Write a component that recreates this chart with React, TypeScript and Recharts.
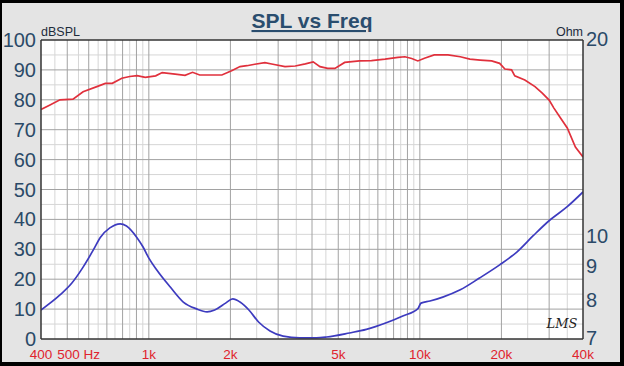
import React from 'react';
import { ComposedChart, Line, XAxis, YAxis, CartesianGrid, ReferenceLine } from 'recharts';

// SPL response (dBSPL, left axis)
const splFreq = [400, 430, 470, 525, 572, 643, 691, 733, 795, 850, 905, 970, 1060, 1120, 1250, 1360, 1450, 1540, 1710, 1860, 2020, 2170, 2300, 2460, 2680, 2870, 3180, 3470, 3780, 4040, 4280, 4570, 4860, 5280, 5990, 6630, 7440, 8300, 8810, 9330, 9830, 10400, 11300, 12700, 14100, 15300, 16700, 18400, 19700, 20600, 21800, 22400, 24400, 26600, 28300, 30000, 31200, 33000, 35000, 37500, 40000];
const splDb = [76.8, 78.2, 80.0, 80.2, 82.7, 84.4, 85.5, 85.5, 87.2, 87.8, 88.1, 87.5, 88.0, 89.1, 88.6, 88.2, 89.2, 88.3, 88.3, 88.3, 89.7, 91.1, 91.4, 91.9, 92.4, 91.9, 91.1, 91.3, 92.0, 92.7, 91.1, 90.5, 90.5, 92.5, 93.0, 93.1, 93.6, 94.2, 94.4, 93.8, 93.0, 93.9, 95.0, 95.0, 94.4, 93.6, 93.3, 93.0, 92.2, 90.3, 90.0, 88.0, 86.6, 84.4, 82.2, 79.9, 77.3, 74.0, 70.6, 64.2, 60.9];

// Impedance (Ohm, right log axis)
const impFreq = [400, 470, 520, 572, 624, 662, 718, 784, 827, 903, 952, 1000, 1070, 1200, 1340, 1500, 1640, 1750, 1920, 2040, 2170, 2340, 2540, 2800, 3130, 3600, 4150, 4530, 5500, 6350, 7520, 8650, 9820, 10100, 10900, 12150, 14100, 16600, 19700, 22800, 26200, 30200, 34900, 40000];
const impOhm = [7.75, 8.17, 8.52, 9.01, 9.57, 10.0, 10.34, 10.49, 10.41, 10.0, 9.67, 9.3, 8.92, 8.4, 7.97, 7.78, 7.7, 7.75, 7.94, 8.06, 7.97, 7.75, 7.43, 7.2, 7.07, 7.03, 7.03, 7.05, 7.15, 7.24, 7.41, 7.59, 7.78, 7.94, 8.0, 8.11, 8.32, 8.67, 9.08, 9.5, 10.06, 10.63, 11.13, 11.73];

const xTicks = [400, 500, 1000, 2000, 5000, 10000, 20000, 40000];
const xTickLabels = ['400', '500 Hz', '1k', '2k', '5k', '10k', '20k', '40k'];
const dbTicks = [0, 10, 20, 30, 40, 50, 60, 70, 80, 90, 100];
const ohmTicks = [7, 8, 9, 10, 20];

const gridMajorFreq = [500, 600, 700, 800, 900, 1000, 2000, 3000, 4000, 5000, 6000, 7000, 8000, 9000, 10000, 20000, 30000];
const gridMinorFreq = [450, 550, 650, 750, 850, 950, 1500, 2500, 3500, 4500, 5500, 6500, 7500, 8500, 9500, 15000, 25000, 35000];
const gridMajorDb = [10, 20, 30, 40, 50, 60, 70, 80, 90];
const gridMinorDb = [5, 15, 25, 35, 45, 55, 65, 75, 85, 95];

const splData = splFreq.map((f, i) => ({ f, db: splDb[i] }));
const impData = impFreq.map((f, i) => ({ f, ohm: impOhm[i] }));

const FONT = '"Liberation Sans", Arial, sans-serif';
const AXIS_BLUE = '#2b4a68';

const XTick = (props: any) => {
  const { x, y, payload } = props;
  const idx = xTicks.indexOf(payload.value);
  const label = idx >= 0 ? xTickLabels[idx] : '';
  const isHz = payload.value === 500;
  return (
    <text x={isHz ? x - 10 : x} y={y + 19.5} textAnchor={isHz ? 'start' : 'middle'} fill="#e0232d" fontSize={13.5} fontFamily={FONT}>
      {label}
    </text>
  );
};

const LeftTick = (props: any) => {
  const { x, y, payload } = props;
  return (
    <text x={x - 5} y={y + 7} textAnchor="end" fill={AXIS_BLUE} fontSize={20} fontFamily={FONT}>
      {payload.value}
    </text>
  );
};

const RightTick = (props: any) => {
  const { x, y, payload } = props;
  return (
    <text x={x + 3} y={y + 6} textAnchor="start" fill={AXIS_BLUE} fontSize={20} fontFamily={FONT}>
      {payload.value}
    </text>
  );
};

export default function App() {
  return (
    <div style={{ position: 'absolute', left: 0, top: 0, width: 624, height: 366, background: '#000' }}>
      <div style={{ position: 'absolute', left: 2, top: 3, width: 618, height: 359, background: '#e4e4e4' }} />
      <div style={{ position: 'absolute', left: 0, top: 0 }}>
        <ComposedChart width={624} height={366} margin={{ top: 40, right: 0, bottom: 0, left: 0 }}>
          <CartesianGrid
            fill="#ffffff"
            stroke="#d6d6d6"
            strokeWidth={1}
            verticalValues={gridMinorFreq}
            horizontalValues={gridMinorDb}
          />
          <CartesianGrid
            fill="none"
            stroke="#a2a2a2"
            strokeWidth={1}
            verticalValues={gridMajorFreq}
            horizontalValues={gridMajorDb}
          />
          <XAxis
            dataKey="f"
            type="number"
            scale="log"
            domain={[400, 40000]}
            allowDataOverflow
            ticks={xTicks}
            interval={0}
            tick={<XTick />}
            tickLine={false}
            tickSize={0}
            tickMargin={0}
            height={27}
            axisLine={{ stroke: '#333', strokeWidth: 1.5 }}
          />
          <YAxis
            yAxisId={0}
            type="number"
            domain={[0, 100]}
            ticks={dbTicks}
            interval={0}
            tick={<LeftTick />}
            tickLine={false}
            tickSize={0}
            tickMargin={0}
            width={41}
            axisLine={{ stroke: '#333', strokeWidth: 1.5 }}
          />
          <YAxis
            yAxisId="r"
            orientation="right"
            type="number"
            scale="log"
            domain={[7, 20]}
            allowDataOverflow
            ticks={ohmTicks}
            interval={0}
            tick={<RightTick />}
            tickLine={false}
            tickSize={0}
            tickMargin={0}
            width={41}
            axisLine={{ stroke: '#333', strokeWidth: 1.5 }}
          />
          <ReferenceLine y={100} yAxisId={0} stroke="#333" strokeWidth={1.5} />
          <Line
            data={splData}
            dataKey="db"
            yAxisId={0}
            type="linear"
            stroke="#e0303c"
            strokeWidth={1.7}
            dot={false}
            isAnimationActive={false}
          />
          <Line
            data={impData}
            dataKey="ohm"
            yAxisId="r"
            type="monotone"
            stroke="#3d3bbf"
            strokeWidth={1.7}
            dot={false}
            isAnimationActive={false}
          />
        </ComposedChart>
      </div>
      <svg width={624} height={366} style={{ position: 'absolute', left: 0, top: 0, pointerEvents: 'none' }}>
        <text x={312} y={28} textAnchor="middle" fontSize={21} fontWeight="bold" fill="#2a4d6e" fontFamily={FONT} textDecoration="underline">
          SPL vs Freq
        </text>
        <text x={41} y={36} textAnchor="start" fontSize={12.5} fill="#1d2c3c" fontFamily={FONT}>
          dBSPL
        </text>
        <text x={583} y={36} textAnchor="end" fontSize={12.5} fill="#1d2c3c" fontFamily={FONT}>
          Ohm
        </text>
        <text x={562} y={328} textAnchor="middle" fontSize={13} fontStyle="italic" fill="#222" fontFamily='"DejaVu Serif", serif'>
          LMS
        </text>
      </svg>
    </div>
  );
}
